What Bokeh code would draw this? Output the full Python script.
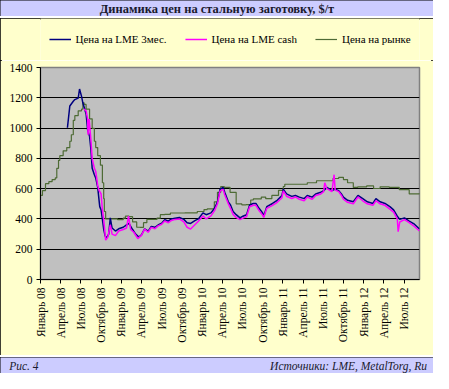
import math
import calendar
from bokeh.plotting import figure
from bokeh.layouts import column
from bokeh.models import Range1d, FixedTicker, Legend, LegendItem
from bokeh.core.properties import value
from bokeh.embed import file_html
from bokeh.resources import INLINE

# ---------------- data ----------------
title_text = "Динамика цен на стальную заготовку, $/т"
fig_label = "Рис. 4"
source_label = "Источники: LME, MetalTorg, Ru"
series_names = ["Цена на LME 3мес.", "Цена на LME cash", "Цена на рынке"]

tick_labels = ["Январь 08", "Апрель 08", "Июль 08", "Октябрь 08",
               "Январь 09", "Апрель 09", "Июль 09", "Октябрь 09",
               "Январь 10", "Апрель 10", "Июль 10", "Октябрь 10",
               "Январь 11", "Апрель 11", "Июль 11", "Октябрь 11",
               "Январь 12", "Апрель 12", "Июль 12"]
y_ticks = [0, 200, 400, 600, 800, 1000, 1200, 1400]

market_dates = ["2008-01-02", "2008-01-10", "2008-01-24", "2008-02-08", "2008-02-22", "2008-03-07",
                "2008-03-14", "2008-03-22", "2008-03-28", "2008-04-12", "2008-04-28", "2008-05-12",
                "2008-05-19", "2008-05-28", "2008-06-04", "2008-06-19", "2008-07-04", "2008-07-10",
                "2008-07-16", "2008-07-25", "2008-08-10", "2008-08-22", "2008-09-01", "2008-09-07",
                "2008-09-16", "2008-09-28", "2008-10-07", "2008-10-13", "2008-10-16", "2008-10-22",
                "2008-11-15", "2008-12-15", "2009-01-10", "2009-01-20", "2009-02-05", "2009-02-20",
                "2009-03-10", "2009-03-25", "2009-04-10", "2009-04-25", "2009-05-15", "2009-06-10",
                "2009-06-25", "2009-07-15", "2009-08-10", "2009-09-10", "2009-10-15", "2009-12-10",
                "2010-01-10", "2010-01-25", "2010-02-24", "2010-03-10", "2010-03-25", "2010-04-10",
                "2010-05-06", "2010-06-03", "2010-06-28", "2010-07-18", "2010-08-08", "2010-08-20",
                "2010-09-25", "2010-10-15", "2010-11-12", "2010-12-12", "2011-01-03", "2011-01-10",
                "2011-04-05", "2011-04-20", "2011-06-01", "2011-08-15", "2011-09-10", "2011-10-01",
                "2011-10-20", "2011-11-15", "2011-12-05", "2012-01-15", "2012-02-15", "2012-03-15",
                "2012-04-25", "2012-06-10", "2012-07-25", "2012-09-10"]
market_vals = [555, 587, 633, 646, 660, 671,
               734, 787, 818, 850, 871, 913,
               956, 1051, 1082, 1114, 1125, 1167,
               1156, 1125, 1061, 998, 913, 871,
               818, 755, 639, 534, 449, 400,
               400, 395, 405, 418, 415, 380,
               345, 344, 375, 397, 397, 405,
               428, 430, 439, 439, 440, 449,
               462, 467, 513, 576, 614, 608,
               576, 500, 493, 495, 525, 532,
               544, 534, 555, 589, 614, 629,
               629, 639, 652, 667, 675, 660,
               639, 608, 612, 618, 601, 612,
               608, 593, 565, 572]

lme3_dates = ["2008-05-01", "2008-05-12", "2008-05-28", "2008-06-04", "2008-06-19", "2008-06-25",
              "2008-07-04", "2008-07-10", "2008-07-25", "2008-08-01", "2008-08-10", "2008-08-16",
              "2008-08-22", "2008-09-01", "2008-09-07", "2008-09-16", "2008-09-22", "2008-09-25",
              "2008-10-01", "2008-10-07", "2008-10-13", "2008-10-19", "2008-10-25", "2008-11-05",
              "2008-11-12", "2008-11-20", "2008-12-05", "2008-12-20", "2009-01-10", "2009-01-25",
              "2009-02-05", "2009-02-20", "2009-03-05", "2009-03-20", "2009-04-01", "2009-04-15",
              "2009-05-01", "2009-05-15", "2009-06-01", "2009-06-15", "2009-07-01", "2009-07-15",
              "2009-08-01", "2009-08-15", "2009-09-01", "2009-09-20", "2009-10-10", "2009-10-25",
              "2009-11-10", "2009-12-01", "2009-12-15", "2010-01-05", "2010-01-20", "2010-02-10",
              "2010-02-25", "2010-03-10", "2010-03-22", "2010-04-05", "2010-04-12", "2010-04-28",
              "2010-05-08", "2010-05-20", "2010-06-03", "2010-06-20", "2010-07-03", "2010-07-20",
              "2010-08-03", "2010-08-20", "2010-09-01", "2010-09-15", "2010-10-01", "2010-10-06",
              "2010-10-20", "2010-11-15", "2010-12-06", "2010-12-28", "2011-01-03", "2011-01-18",
              "2011-02-10", "2011-02-25", "2011-03-15", "2011-04-06", "2011-04-20", "2011-05-12",
              "2011-05-28", "2011-06-20", "2011-07-03", "2011-07-18", "2011-08-10", "2011-08-25",
              "2011-09-10", "2011-09-22", "2011-10-01", "2011-10-20", "2011-11-15", "2011-12-06",
              "2011-12-28", "2012-01-18", "2012-02-12", "2012-02-25", "2012-03-15", "2012-04-06",
              "2012-04-28", "2012-05-15", "2012-06-01", "2012-06-12", "2012-07-03", "2012-07-25",
              "2012-08-18", "2012-09-10"]
lme3_vals = [1002, 1146, 1177, 1188, 1198, 1258,
             1209, 1167, 1093, 988, 945, 861,
             734, 692, 671, 608, 523, 481,
             460, 397, 333, 291, 272, 300,
             407, 340, 320, 335, 345, 360,
             370, 330, 300, 280, 295, 335,
             320, 350, 345, 360, 372, 395,
             385, 400, 405, 410, 397, 375,
             370, 390, 400, 440, 428, 440,
             470, 513, 597, 608, 576, 513,
             492, 449, 428, 407, 418, 428,
             492, 502, 502, 470, 439, 418,
             481, 502, 523, 555, 597, 565,
             549, 555, 544, 534, 555, 544,
             565, 576, 587, 608, 587, 597,
             587, 565, 544, 523, 513, 555,
             534, 513, 502, 534, 513, 502,
             481, 460, 418, 397, 407, 386,
             365, 333]

cash_dates = ["2008-07-15", "2008-07-25", "2008-08-01", "2008-08-03", "2008-08-08", "2008-08-16",
              "2008-08-22", "2008-09-01", "2008-09-07", "2008-09-16", "2008-09-22", "2008-10-01",
              "2008-10-07", "2008-10-13", "2008-10-22", "2008-11-01", "2008-11-12", "2008-11-20",
              "2008-12-05", "2008-12-20", "2009-01-10", "2009-01-25", "2009-02-03", "2009-02-12",
              "2009-02-25", "2009-03-15", "2009-04-01", "2009-04-15", "2009-05-01", "2009-05-15",
              "2009-06-01", "2009-06-15", "2009-07-01", "2009-07-15", "2009-08-01", "2009-08-15",
              "2009-09-01", "2009-09-20", "2009-10-10", "2009-10-25", "2009-11-10", "2009-12-01",
              "2009-12-15", "2010-01-05", "2010-01-20", "2010-02-10", "2010-02-25", "2010-03-10",
              "2010-03-22", "2010-04-05", "2010-04-12", "2010-04-28", "2010-05-08", "2010-05-20",
              "2010-06-03", "2010-06-20", "2010-07-03", "2010-07-20", "2010-08-03", "2010-08-20",
              "2010-09-01", "2010-09-15", "2010-10-01", "2010-10-06", "2010-10-20", "2010-11-15",
              "2010-12-06", "2010-12-28", "2011-01-03", "2011-01-18", "2011-02-10", "2011-02-25",
              "2011-03-15", "2011-04-06", "2011-04-20", "2011-05-12", "2011-05-28", "2011-06-20",
              "2011-07-03", "2011-07-08", "2011-07-18", "2011-08-10", "2011-08-20", "2011-08-25",
              "2011-09-10", "2011-09-22", "2011-10-01", "2011-10-20", "2011-11-15", "2011-12-06",
              "2011-12-28", "2012-01-18", "2012-02-12", "2012-02-25", "2012-03-15", "2012-04-06",
              "2012-04-28", "2012-05-15", "2012-06-01", "2012-06-05", "2012-06-12", "2012-07-03",
              "2012-07-25", "2012-08-18", "2012-09-10"]
cash_vals = [1125, 1114, 1060, 956, 1060, 924,
             798, 734, 715, 620, 589, 565,
             462, 399, 260, 280, 360, 300,
             290, 320, 330, 340, 418, 330,
             312, 270, 291, 333, 312, 344,
             335, 354, 365, 386, 375, 390,
             397, 400, 380, 345, 333, 365,
             385, 420, 400, 420, 455, 500,
             585, 595, 560, 500, 470, 430,
             410, 395, 405, 415, 480, 490,
             490, 455, 425, 410, 470, 490,
             510, 540, 585, 550, 535, 545,
             530, 520, 545, 530, 555, 565,
             580, 639, 600, 580, 692, 590,
             580, 555, 530, 510, 500, 545,
             520, 500, 490, 520, 500, 490,
             465, 445, 400, 316, 380, 395,
             375, 350, 320]


def mpos(s):
    y, m, d = map(int, s.split("-"))
    dim = calendar.monthrange(y, m)[1]
    return (y - 2008) * 12 + (m - 1) + (d - 1) / dim


W = 433
SERIF = value("Liberation Serif")
LAV = "#CCCCFF"
YEL = "#FFFFCC"
C_LME3 = "#000080"
C_CASH = "#FF00FF"
C_MKT = "#4E6B35"
BOX = {"outline": "2px solid black", "outline-offset": "-2px"}


def bar_fig(height):
    return figure(width=W, height=height, x_range=Range1d(0, 1), y_range=Range1d(0, 1),
                  x_axis_type=None, y_axis_type=None, toolbar_location=None,
                  output_backend="svg", min_border=0,
                  background_fill_color=LAV, border_fill_color=LAV,
                  outline_line_color=None, styles=BOX)


# ---------------- title bar ----------------
t = bar_fig(16)
t.text(x=[0.5], y=[0.45], text=[title_text], text_align="center", text_baseline="middle",
       text_font=SERIF, text_font_style="bold", text_font_size="12.5px", text_color="#1a1a2e")

# ---------------- legend strip ----------------
lg = figure(width=W, height=42, x_range=Range1d(0, 1), y_range=Range1d(0, 1),
            x_axis_type=None, y_axis_type=None, toolbar_location=None,
            output_backend="svg", min_border=0,
            background_fill_color=YEL, border_fill_color=YEL, outline_line_color=None)
# legend-only renderers, kept outside the visible range of this strip
l1 = lg.line([5, 6], [5, 6], line_color=C_LME3, line_width=1.5)
l2 = lg.line([5, 6], [5, 6], line_color=C_CASH, line_width=1.5)
l3 = lg.line([5, 6], [5, 6], line_color=C_MKT, line_width=1.2)
legend = Legend(items=[LegendItem(label=series_names[0], renderers=[l1]),
                       LegendItem(label=series_names[1], renderers=[l2]),
                       LegendItem(label=series_names[2], renderers=[l3])],
                orientation="horizontal", location="center",
                background_fill_alpha=0, border_line_alpha=0,
                label_text_font="Liberation Serif", label_text_font_size="11px",
                label_text_color="black",
                glyph_width=22, label_standoff=5, spacing=18, padding=0, margin=0)
lg.add_layout(legend)

# ---------------- main chart ----------------
p = figure(width=W, height=295, x_range=Range1d(0, 56.3), y_range=Range1d(0, 1400),
           toolbar_location=None, output_backend="svg",
           min_border_left=40, min_border_right=14, min_border_top=7, min_border_bottom=76,
           background_fill_color="#C0C0C0", border_fill_color=YEL,
           outline_line_color="#808080", outline_line_width=1.5)

gx = [mpos(d) for d in market_dates]
bx = [mpos(d) for d in lme3_dates]
cx = [mpos(d) for d in cash_dates]
p.step(gx, market_vals, mode="after", line_color=C_MKT, line_width=1.2)
p.line(bx, lme3_vals, line_color=C_LME3, line_width=1.5)
p.line(cx, cash_vals, line_color=C_CASH, line_width=1.5)

p.xgrid.visible = False
p.ygrid.ticker = FixedTicker(ticks=y_ticks)
p.ygrid.grid_line_color = "black"
p.ygrid.grid_line_width = 1

p.yaxis.ticker = FixedTicker(ticks=y_ticks)
x_ticks = [3 * i for i in range(len(tick_labels))]
p.xaxis.ticker = FixedTicker(ticks=x_ticks)
p.xaxis.major_label_overrides = {x: lab for x, lab in zip(x_ticks, tick_labels)}
p.xaxis.major_label_orientation = math.pi / 2

for ax in (p.xaxis, p.yaxis):
    ax.axis_line_color = "black"
    ax.axis_line_width = 1
    ax.major_tick_line_color = "black"
    ax.major_tick_in = 0
    ax.major_tick_out = 4
    ax.minor_tick_line_color = None
    ax.major_label_text_font = "Liberation Serif"
    ax.major_label_text_font_size = "11.5px"
    ax.major_label_text_color = "black"
    ax.major_label_standoff = 4

box = column(lg, p, spacing=0, styles=BOX)

# ---------------- footer ----------------
f = bar_fig(16)
f.text(x=[0.02], y=[0.45], text=[fig_label], text_align="left", text_baseline="middle",
       text_font=SERIF, text_font_style="italic", text_font_size="11.5px", text_color="#1a1a2e")
f.text(x=[0.985], y=[0.45], text=[source_label], text_align="right", text_baseline="middle",
       text_font=SERIF, text_font_style="italic", text_font_size="11.5px", text_color="#1a1a2e")

layout = column(t, box, f, spacing=2)
open("out.html", "w").write(file_html(layout, INLINE))
